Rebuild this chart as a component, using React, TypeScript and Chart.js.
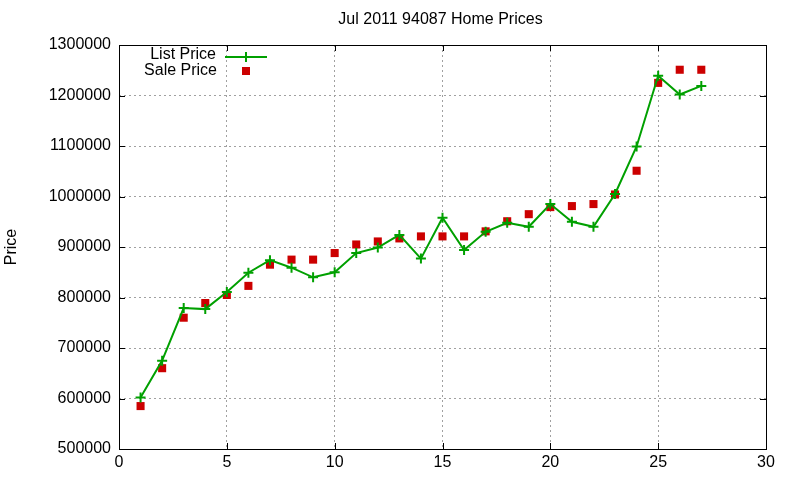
import { useEffect, useRef } from "react";
import { Chart, registerables } from "chart.js";
Chart.register(...registerables);

const days = [
  1, 2, 3, 4, 5, 6, 7, 8, 9, 10, 11, 12, 13, 14, 15, 16, 17, 18, 19, 20, 21,
  22, 23, 24, 25, 26, 27,
];
const listPrices = [
  602000, 675000, 779000, 777000, 811000, 849000, 874000, 859000, 840000,
  850000, 888000, 899000, 924000, 877000, 958000, 894000, 930000, 948000,
  940000, 985000, 950000, 940000, 1005000, 1099000, 1239000, 1202000, 1219000,
];
const salePrices = [
  585000, 660000, 760000, 789000, 805000, 823000, 865000, 875000, 875000,
  888000, 905000, 911000, 917000, 921000, 921000, 921000, 931000, 951000,
  965000, 979000, 981000, 985000, 1004000, 1051000, 1225000, 1251000, 1251000,
];
const seriesNames = ["List Price", "Sale Price"];
const chartTitle = "Jul 2011 94087 Home Prices";
const yLabel = "Price";

const FONT = "'Liberation Sans', Arial, sans-serif";
const GREEN = "#00a000";
const RED = "#cc0000";

// gnuplot look: frame, inward mirror ticks, title and the key
const gnuplotDecor = {
  id: "gnuplotDecor",
  afterDraw(chart: Chart) {
    const { ctx, chartArea: a } = chart;
    const xs = chart.scales.x;
    const ys = chart.scales.y;
    ctx.save();
    ctx.setLineDash([]);
    ctx.strokeStyle = "#000";
    ctx.lineWidth = 1;
    ctx.strokeRect(a.left + 0.5, a.top + 0.5, a.right - a.left, a.bottom - a.top);
    const t = 6;
    ctx.beginPath();
    xs.ticks.forEach((tk) => {
      const px = Math.round(xs.getPixelForValue(tk.value)) + 0.5;
      ctx.moveTo(px, a.bottom);
      ctx.lineTo(px, a.bottom - t);
      ctx.moveTo(px, a.top);
      ctx.lineTo(px, a.top + t);
    });
    ys.ticks.forEach((tk) => {
      const py = Math.round(ys.getPixelForValue(tk.value)) + 0.5;
      ctx.moveTo(a.left, py);
      ctx.lineTo(a.left + t, py);
      ctx.moveTo(a.right, py);
      ctx.lineTo(a.right - t, py);
    });
    ctx.stroke();

    ctx.fillStyle = "#000";
    ctx.font = `16px ${FONT}`;
    ctx.textAlign = "center";
    ctx.textBaseline = "middle";
    ctx.fillText(chartTitle, (a.left + a.right) / 2 - 2, 20);

    // key
    ctx.textAlign = "right";
    ctx.fillText(seriesNames[0], 216, 55);
    ctx.fillText(seriesNames[1], 217, 71);
    ctx.strokeStyle = GREEN;
    ctx.lineWidth = 2;
    ctx.beginPath();
    ctx.moveTo(225, 57);
    ctx.lineTo(267, 57);
    ctx.moveTo(246, 52);
    ctx.lineTo(246, 62);
    ctx.stroke();
    ctx.fillStyle = RED;
    ctx.fillRect(242, 67, 8, 8);
    ctx.restore();
  },
};

const App = () => {
  const canvasRef = useRef<HTMLCanvasElement>(null);

  useEffect(() => {
    if (!canvasRef.current) return;
    const chart = new Chart(canvasRef.current, {
      type: "line",
      data: {
        datasets: [
          {
            label: seriesNames[0],
            data: days.map((d, i) => ({ x: d, y: listPrices[i] })),
            borderColor: GREEN,
            backgroundColor: GREEN,
            borderWidth: 2,
            pointStyle: "cross",
            pointRadius: 5,
            pointBorderWidth: 2,
            pointBorderColor: GREEN,
            tension: 0,
          },
          {
            label: seriesNames[1],
            data: days.map((d, i) => ({ x: d, y: salePrices[i] })),
            showLine: false,
            pointStyle: "rect",
            pointRadius: 5.7,
            pointBorderWidth: 0,
            backgroundColor: RED,
            borderColor: RED,
          },
        ],
      },
      options: {
        animation: false,
        responsive: true,
        maintainAspectRatio: false,
        layout: { padding: { top: 45, right: 34, left: 0, bottom: 0 } },
        plugins: {
          legend: { display: false },
          tooltip: { enabled: false },
          title: { display: false },
        },
        scales: {
          x: {
            type: "linear",
            min: 0,
            max: 30,
            ticks: {
              stepSize: 5,
              color: "#000",
              padding: 4,
              font: { family: FONT, size: 16 },
              callback: (v) => String(v),
            },
            grid: { color: "#a0a0a0", drawTicks: false, lineWidth: 1 },
            border: { display: false, dash: [2, 3] },
            afterFit: (s) => {
              s.height = 31;
            },
          },
          y: {
            min: 500000,
            max: 1300000,
            ticks: {
              stepSize: 100000,
              color: "#000",
              padding: 8,
              font: { family: FONT, size: 16 },
              callback: (v) => String(v),
            },
            grid: { color: "#a0a0a0", drawTicks: false, lineWidth: 1 },
            border: { display: false, dash: [2, 3] },
            title: {
              display: true,
              text: yLabel,
              color: "#000",
              padding: { top: 2, bottom: 0 },
              font: { family: FONT, size: 16 },
            },
            afterFit: (s) => {
              s.width = 119;
            },
          },
        },
      },
      plugins: [gnuplotDecor],
    });
    return () => chart.destroy();
  }, []);

  return (
    <div style={{ position: "absolute", left: 0, top: 0, width: 800, height: 480, background: "#fff" }}>
      <canvas ref={canvasRef}></canvas>
    </div>
  );
};

export default App;
